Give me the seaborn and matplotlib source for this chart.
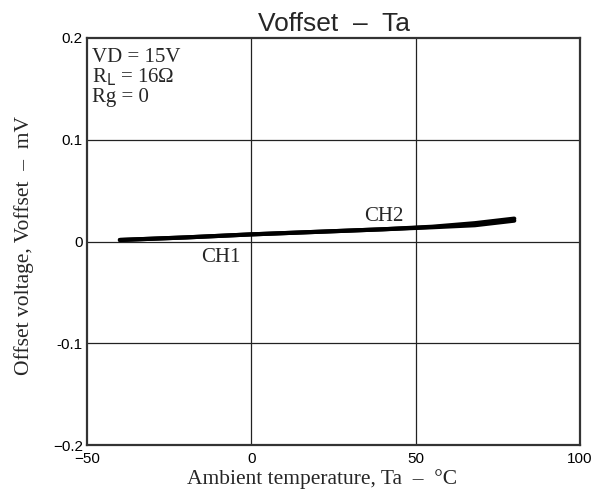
import numpy as np
import pandas as pd
import seaborn as sns
from matplotlib import pyplot as plt

ta_ch1 = [-40, -20, 0, 20, 40, 55, 68, 80]
v_ch1 = [0.0015, 0.004, 0.007, 0.0095, 0.012, 0.014, 0.016, 0.0205]
ta_ch2 = [-40, -20, 0, 20, 40, 55, 68, 80]
v_ch2 = [0.0015, 0.004, 0.007, 0.0095, 0.012, 0.0145, 0.018, 0.0225]

x_ticks = [-50, 0, 50, 100]
y_ticks = [-0.2, -0.1, 0, 0.1, 0.2]
y_labels = ["\u22120.2", "-0.1", "0", "0.1", "0.2"]
x_labels = ["\u221250", "0", "50", "100"]

df = pd.DataFrame({
    "Ta": ta_ch1 + ta_ch2,
    "V": v_ch1 + v_ch2,
    "ch": ["CH1"] * len(ta_ch1) + ["CH2"] * len(ta_ch2),
})

sns.set_style("white")
plt.rcParams['font.family'] = ['Liberation Sans', 'DejaVu Sans']
serif = ['Liberation Serif', 'DejaVu Serif']

fig = plt.figure(figsize=(6.05, 4.98), dpi=100)
ax = fig.add_axes([0.1438, 0.1064, 0.8149, 0.8173])

sns.lineplot(data=df, x="Ta", y="V", hue="ch", palette=["black", "black"],
             linewidth=3, legend=False, ax=ax, estimator=None, sort=False)

ax.set_xlim(-50, 100)
ax.set_ylim(-0.2, 0.2)
ax.set_xticks(x_ticks)
ax.set_xticklabels(x_labels)
ax.set_yticks(y_ticks)
ax.set_yticklabels(y_labels)
ax.tick_params(length=0, labelsize=11, pad=3, colors="black")
ax.tick_params(axis="x", pad=5)
for x in [0, 50]:
    ax.axvline(x, color="#222222", lw=0.9, zorder=0)
for y in [-0.1, 0, 0.1]:
    ax.axhline(y, color="#222222", lw=0.9, zorder=0)
for s in ax.spines.values():
    s.set_color("#333333")
    s.set_linewidth(1.6)

ax.set_xlabel("Ambient temperature, Ta  \u2013  \u00b0C", family=serif, fontsize=15.5)
ax.xaxis.set_label_coords(0.477, -0.058)
ax.set_ylabel("Offset voltage, Voffset  \u2013  mV", family=serif, fontsize=15.5)
ax.yaxis.set_label_coords(-0.108, 0.491)

ax.set_title("Voffset  \u2013  Ta", fontsize=19, pad=5)

ax.text(-48.5, 0.1764, "VD = 15V", family=serif, fontsize=15, va="baseline")
ax.text(-48.5, 0.1567, "R$_\\mathrm{L}$ = 16\u03a9", family=serif, fontsize=15, va="baseline")
ax.text(-48.5, 0.1370, "Rg = 0", family=serif, fontsize=15, va="baseline")
ax.text(40.2, 0.0197, "CH2", family=serif, fontsize=15, ha="center", va="baseline")
ax.text(-9.4, -0.0206, "CH1", family=serif, fontsize=15, ha="center", va="baseline")

fig.savefig("out.png", dpi=100)
